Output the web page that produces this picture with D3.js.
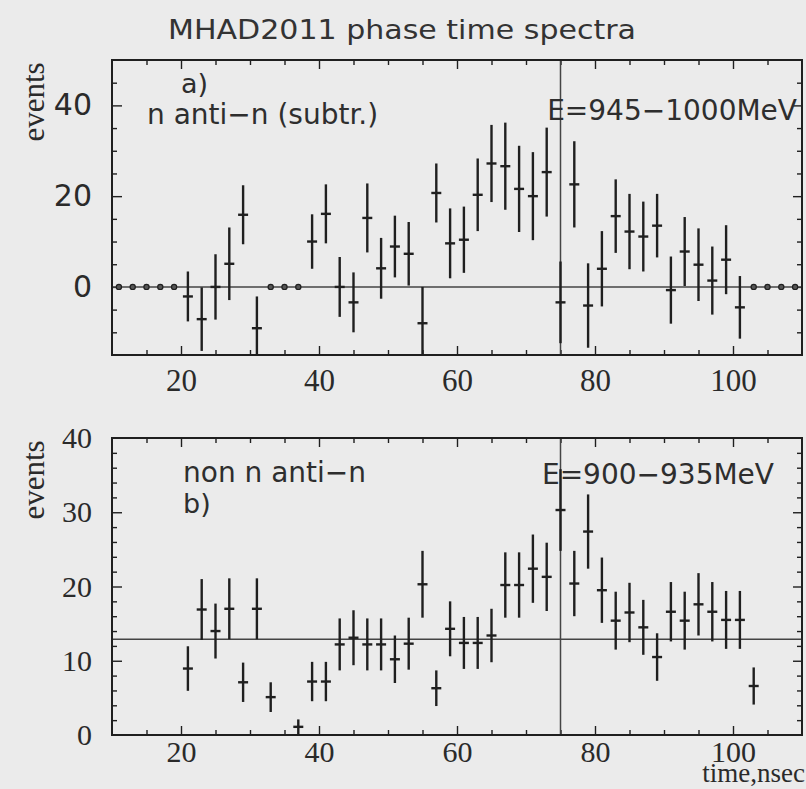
<!DOCTYPE html>
<html>
<head>
<meta charset="utf-8">
<script src="https://cdn.jsdelivr.net/npm/d3@7"></script>
<style>
  body { margin: 0; background: #ebebeb; }
  svg { display: block; }
</style>
</head>
<body>
<script>
// panel a) n anti-n (subtracted), bins of 2 nsec centred on odd times
const binsA = d3.range(11, 111, 2);
const valuesA = [0, 0, 0, 0, 0, -2.1, -7.1, 0, 5.1, 15.9, -9.1, 0, 0, 0,
  10, 16.1, 0, -3.4, 15.2, 4.1, 8.9, 7.3, -8, 20.7, 9.6, 10.4, 20.3, 27.2, 26.6,
  21.6, 20, 25.3, -3.4, 22.6, -4.1, 4, 15.6, 12.2, 11.1, 13.5, -0.7, 7.8, 4.9,
  1.4, 6, -4.5, 0, 0, 0, 0];
const errorsA = [0, 0, 0, 0, 0, 5.5, 7, 7.2, 8, 6.5, 7, 0, 0, 0,
  6, 6.5, 6.6, 6.6, 7.6, 6.7, 6.8, 7, 8, 6.5, 7.7, 7.3, 8, 8.5, 9.6,
  9.5, 9.7, 9.8, 9, 9.5, 9.3, 8.3, 8.1, 8.3, 7.7, 7, 7.4, 7.6, 8,
  7.5, 7.6, 6.9, 0, 0, 0, 0];

// panel b) non n anti-n
const binsB = d3.range(21, 105, 2);
const valuesB = [8.95, 16.9, 14, 17, 7.1, 17, 5.1, null, 1.1, 7.2, 7.2, 12.2,
  13.1, 12.2, 12.2, 10.2, 12.3, 20.3, 6.3, 14.3, 12.4, 12.4, 13.4, 20.2, 20.2,
  22.4, 21.3, 30.3, 20.4, 27.4, 19.5, 15.4, 16.5, 14.5, 10.5, 16.6, 15.4, 17.6,
  16.6, 15.5, 15.5, 6.6];
const errorsB = [3, 4.1, 3.7, 4.1, 2.65, 4.1, 2, null, 1, 2.65, 2.65, 3.5,
  3.7, 3.5, 3.5, 3.2, 3.5, 4.5, 2.4, 3.7, 3.5, 3.5, 3.6, 4.4, 4.4,
  4.6, 4.6, 5.5, 4.4, 5, 4.4, 3.9, 4, 3.7, 3.2, 4, 3.9, 4.2,
  4, 3.9, 3.9, 2.5];

const xLabels = [20, 40, 60, 80, 100];
const yLabelsA = [0, 20, 40];
const yLabelsB = [0, 10, 20, 30, 40];
const markTime = 75;
const levelA = 0, levelB = 12.9;

const W = 806, H = 789;
const ink = '#1f1f1f';
const sans = '"DejaVu Sans", "Liberation Sans", sans-serif';
const serif = '"Liberation Serif", "DejaVu Serif", serif';

const svg = d3.select('body').append('svg').attr('width', W).attr('height', H);
svg.append('rect').attr('width', W).attr('height', H).attr('fill', '#ebebeb');

const x = d3.scaleLinear().domain([10, 110]).range([112, 802]);
const yA = d3.scaleLinear().domain([-15, 50]).range([355, 60]);
const yB = d3.scaleLinear().domain([0, 40]).range([735, 438]);

svg.append('text')
   .attr('x', 168).attr('y', 39)
   .attr('textLength', 468).attr('lengthAdjust', 'spacingAndGlyphs')
   .attr('font-family', sans).attr('font-size', 27).attr('fill', '#333')
   .text('MHAD2011 phase time spectra');

function panel(y, opts) {
    const g = svg.append('g');
    const [y0, y1] = y.range();
    const [xl, xr] = x.range();

    // ticks, all pointing inward
    const xMinor = d3.range(15, 110, 5).filter(v => v % 20 != 0);
    const mk = (axis, vals, len, tr) => g.append('g')
        .attr('transform', tr)
        .call(axis.tickValues(vals).tickSize(-len).tickFormat(''))
        .call(s => s.select('.domain').remove())
        .call(s => s.selectAll('line').attr('stroke', ink).attr('stroke-width', 1.4));
    mk(d3.axisBottom(x), xMinor, 5, `translate(0,${y0})`);
    mk(d3.axisTop(x), xMinor, 5, `translate(0,${y1})`);
    mk(d3.axisLeft(y), opts.yMinor, 5, `translate(${xl},0)`);
    mk(d3.axisRight(y), opts.yMinor, 5, `translate(${xr},0)`);
    mk(d3.axisTop(x), xLabels, 9, `translate(0,${y1})`);
    mk(d3.axisRight(y), opts.yMajor, 9, `translate(${xr},0)`);

    const xa = g.append('g').attr('transform', `translate(0,${y0})`)
        .call(d3.axisBottom(x).tickValues(xLabels).tickSize(-9).tickPadding(opts.xPad));
    xa.select('.domain').remove();
    xa.selectAll('line').attr('stroke', ink).attr('stroke-width', 1.4);
    xa.selectAll('text').attr('font-family', serif).attr('font-size', opts.xSize).attr('fill', '#2a2a2a');

    const ya = g.append('g').attr('transform', `translate(${xl},0)`)
        .call(d3.axisLeft(y).tickValues(opts.yLabels).tickSize(-opts.yLen).tickPadding(20));
    ya.select('.domain').remove();
    ya.selectAll('line').attr('stroke', ink).attr('stroke-width', 1.4)
      .attr('x2', d => opts.yMajor.includes(d) ? 10 : 0);
    ya.selectAll('text').attr('font-family', opts.yFont).attr('font-size', 30).attr('fill', '#2a2a2a');

    // reference lines
    g.append('line').attr('x1', xl).attr('x2', xr)
     .attr('y1', y(opts.level)).attr('y2', y(opts.level))
     .attr('stroke', '#444').attr('stroke-width', 1.5);
    g.append('line').attr('x1', x(markTime)).attr('x2', x(markTime))
     .attr('y1', y0).attr('y2', y1)
     .attr('stroke', '#444').attr('stroke-width', 1.5);

    // frame
    g.append('rect').attr('x', xl).attr('y', y1).attr('width', xr - xl).attr('height', y0 - y1)
     .attr('fill', 'none').attr('stroke', ink).attr('stroke-width', 2);

    // data points
    const pts = opts.bins.map((b, i) => ({ t: b, v: opts.values[i], e: opts.errors[i] }))
        .filter(d => d.v !== null);
    g.append('clipPath').attr('id', opts.id)
        .append('rect').attr('x', xl).attr('y', y1).attr('width', xr - xl).attr('height', y0 - y1);
    const pg = g.append('g').attr('clip-path', `url(#${opts.id})`);
    const bars = pts.filter(d => d.e > 0);
    pg.selectAll('line.err').data(bars).join('line').attr('class', 'err')
      .attr('x1', d => x(d.t)).attr('x2', d => x(d.t))
      .attr('y1', d => y(d.v - d.e)).attr('y2', d => y(d.v + d.e))
      .attr('stroke', ink).attr('stroke-width', 2.4);
    pg.selectAll('line.bin').data(bars).join('line').attr('class', 'bin')
      .attr('x1', d => x(d.t) - 5).attr('x2', d => x(d.t) + 5)
      .attr('y1', d => y(d.v)).attr('y2', d => y(d.v))
      .attr('stroke', ink).attr('stroke-width', 2.4);
    pg.selectAll('circle').data(pts.filter(d => d.e === 0)).join('circle')
      .attr('cx', d => x(d.t)).attr('cy', d => y(d.v)).attr('r', 2.6)
      .attr('fill', '#555').attr('stroke', ink).attr('stroke-width', 1.2);

    svg.append('text')
       .attr('transform', `translate(44,${opts.evY}) rotate(-90)`)
       .attr('text-anchor', 'middle')
       .attr('font-family', serif).attr('font-size', 31).attr('fill', '#2a2a2a')
       .text('events');
}

panel(yA, {
    id: 'clipA', bins: binsA, values: valuesA, errors: errorsA, level: levelA,
    yMinor: d3.range(-10, 50, 5).filter(v => !yLabelsA.includes(v)),
    yMajor: yLabelsA, yLabels: yLabelsA, yLen: 10, yFont: sans, xPad: 14, xSize: 31, evY: 102
});
panel(yB, {
    id: 'clipB', bins: binsB, values: valuesB, errors: errorsB, level: levelB,
    yMinor: d3.range(2, 40, 2).filter(v => v % 10 != 0),
    yMajor: [10, 20, 30], yLabels: yLabelsB, yLen: 10, yFont: serif, xPad: 6, xSize: 30, evY: 480
});

const note = (t, x0, y0, anchor, size) => svg.append('text')
    .attr('x', x0).attr('y', y0).attr('text-anchor', anchor || 'start')
    .attr('font-family', sans).attr('font-size', size || 28).attr('fill', '#2e2e2e').text(t);
note('a)', 181, 93, 'start', 27);
note('n anti\u2212n (subtr.)', 147, 124);
note('E=945\u22121000MeV', 797, 120, 'end');
note('non n anti\u2212n', 183, 482);
note('b)', 183, 513, 'start', 27);
note('E=900\u2212935MeV', 774, 484, 'end');

svg.append('text').attr('x', 805).attr('y', 782).attr('text-anchor', 'end')
   .attr('font-family', serif).attr('font-size', 27).attr('fill', '#2a2a2a')
   .text('time,nsec');
</script>
</body>
</html>
